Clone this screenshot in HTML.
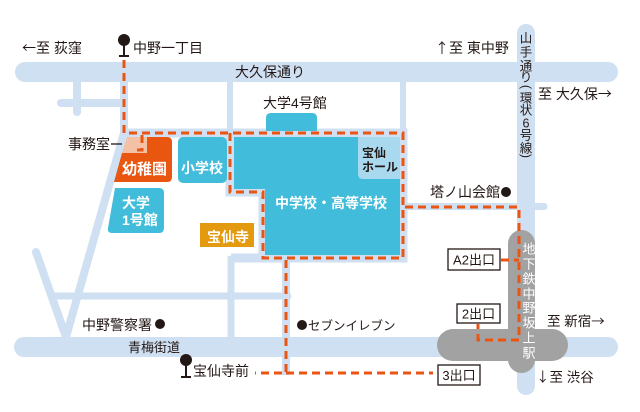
<!DOCTYPE html>
<html><head><meta charset="utf-8"><style>
html,body{margin:0;padding:0;background:#fff;}
svg{display:block;}
text{font-family:"Liberation Sans","Noto Sans CJK JP",sans-serif;fill:#231815;}
.w{fill:#fff;font-weight:bold;}
.a{font-family:"Noto Sans CJK JP",sans-serif;}
</style></head><body>
<svg width="640" height="412" viewBox="0 0 640 412" xmlns="http://www.w3.org/2000/svg">
<rect width="640" height="412" fill="#fff"/>
<g stroke="#cfe0f2" fill="none">
  <line x1="25" y1="72" x2="608" y2="72" stroke-width="20" stroke-linecap="round"/>
  <line x1="526" y1="33" x2="526" y2="386" stroke-width="18" stroke-linecap="round"/>
  <line x1="24" y1="347" x2="608" y2="347" stroke-width="20" stroke-linecap="round"/>
  <line x1="77" y1="80" x2="77" y2="112" stroke-width="8" stroke-linecap="round"/>
  <line x1="61" y1="103" x2="124" y2="103" stroke-width="8" stroke-linecap="round"/>
  <line x1="124" y1="80" x2="124" y2="136" stroke-width="8"/>
  <line x1="124" y1="133" x2="66" y2="337" stroke-width="8"/>
  <line x1="36" y1="252" x2="66" y2="337" stroke-width="8" stroke-linecap="round"/>
  <line x1="230" y1="80" x2="230" y2="136" stroke-width="6"/>
  <line x1="403" y1="80" x2="403" y2="136" stroke-width="6"/>
  <path d="M124 133 H403 V258 H231 M230 133 V192 H263 V258" stroke-width="9"/>
  <line x1="231" y1="256" x2="231" y2="340" stroke-width="7"/>
  <line x1="55" y1="296" x2="288" y2="296" stroke-width="7" stroke-linecap="round"/>
  <line x1="286" y1="258" x2="286" y2="375" stroke-width="8"/>
  <line x1="403" y1="206.5" x2="544" y2="206.5" stroke-width="7" stroke-linecap="round"/>
</g>
<!-- buildings -->
<path d="M234 137 H400 V255 H265 V189 H234 Z" fill="#42bcdb"/>
<path d="M358 137 H400 V179 H363 Q358 179 358 174 Z" fill="#a9d9ef"/>
<path d="M266 131 V118 Q266 113 271 113 H312 Q317 113 317 118 V131 Z" fill="#42bcdb"/>
<path d="M127 137 H147 V153 H122 Z" fill="#f4c1a5"/>
<path d="M147 137 H167 Q172 137 172 142 V177 Q172 182 167 182 H114 L122 153 H147 Z" fill="#e8560f"/>
<rect x="178" y="137" width="49" height="46" rx="5" fill="#42bcdb"/>
<path d="M115 188 H159 Q164 188 164 193 V228 Q164 233 159 233 H112 Q107 233 108 228 Z" fill="#42bcdb"/>
<rect x="200" y="223" width="54" height="24" fill="#e49a0e"/>
<!-- station -->
<rect x="508" y="230" width="27" height="143" rx="13.5" fill="#a2a2a2"/>
<rect x="437" y="329" width="131" height="32" rx="16" fill="#a2a2a2"/>
<!-- dashed routes -->
<g stroke="#ea5514" stroke-width="3" fill="none" stroke-dasharray="8 5">
  <path d="M124 60 V133 H403 V258 H263 V192 H230 V133"/>
  <path d="M142 135 V150 H137"/>
  <path d="M405 207 H519 V340 H478 V324"/>
  <path d="M501 260 H519"/>
  <path d="M286 260 V373 H255 M286 373 H433"/>
</g>
<!-- bus stops -->
<g fill="#231815" stroke="#231815" stroke-width="2">
  <circle cx="124" cy="40" r="6" stroke="none"/>
  <line x1="124" y1="44" x2="124" y2="56"/>
  <line x1="119" y1="56" x2="129" y2="56"/>
  <circle cx="186" cy="360" r="6" stroke="none"/>
  <line x1="186" y1="364" x2="186" y2="377"/>
  <line x1="181" y1="377" x2="191" y2="377"/>
</g>
<!-- dots -->
<circle cx="160" cy="324" r="5" fill="#231815"/>
<circle cx="302" cy="325" r="5" fill="#231815"/>
<circle cx="506" cy="192" r="5" fill="#231815"/>
<!-- exit boxes -->
<g fill="#fff" stroke="#231815" stroke-width="1.3">
  <rect x="448" y="249" width="52" height="21"/>
  <rect x="457" y="304" width="43" height="19"/>
  <rect x="438" y="365" width="42" height="20"/>
</g>
<!-- labels -->
<g font-size="14">
  <text x="22" y="53"><tspan class="a">←</tspan>至 荻窪</text>
  <text x="133" y="53">中野一丁目</text>
  <text x="235" y="77">大久保通り</text>
  <text x="263" y="108">大学4号館</text>
  <text x="435" y="53"><tspan class="a">↑</tspan>至 東中野</text>
  <text x="538" y="99">至 大久保<tspan class="a">→</tspan></text>
  <text x="68" y="149">事務室</text>
  <text x="430" y="197">塔ノ山会館</text>
  <text x="82" y="330">中野警察署</text>
  <text x="193" y="376">宝仙寺前</text>
  <text x="547" y="326" font-size="13.5">至 新宿<tspan class="a">→</tspan></text>
  <text x="536" y="382" font-size="13.5"><tspan class="a">↓</tspan>至 渋谷</text>
  <text x="128" y="352" font-size="13">青梅街道</text>
  <text x="308" y="330" font-size="12.5">セブンイレブン</text>
</g>
<line x1="111" y1="144" x2="122" y2="144" stroke="#231815" stroke-width="1.3"/>
<g font-size="13" text-anchor="middle">
  <text x="474" y="264.5">A2出口</text>
  <text x="478.5" y="318.5">2出口</text>
  <text x="459" y="380">3出口</text>
</g>
<text class="w" x="122" y="174" font-size="15">幼稚園</text>
<text class="w" x="181" y="173" font-size="14">小学校</text>
<text class="w" x="122" y="208" font-size="14">大学</text>
<text class="w" x="122" y="225" font-size="14">1号館</text>
<text class="w" x="207" y="242" font-size="14">宝仙寺</text>
<text class="w" x="275" y="208" font-size="14">中学校・高等学校</text>
<text x="362" y="157" font-size="12" font-weight="bold">宝仙</text>
<text x="362" y="171" font-size="12" font-weight="bold">ホール</text>
<!-- vertical road name -->
<g font-size="12.5" text-anchor="middle">
  <text x="526" y="42.5">山</text>
  <text x="526" y="56.5">手</text>
  <text x="526" y="70.5">通</text>
  <text x="526" y="81.5">り</text>
  <text x="526" y="91" transform="rotate(90 526 87)">(</text>
  <text x="526" y="102.5">環</text>
  <text x="526" y="114.5">状</text>
  <text x="526" y="127.5">6</text>
  <text x="526" y="139.5">号</text>
  <text x="526" y="152.5">線</text>
  <text x="526" y="160" transform="rotate(90 526 156)">)</text>
</g>
<!-- station name -->
<g font-size="13" text-anchor="middle">
  <text x="529" y="253.5" style="fill:#fff">地</text>
  <text x="529" y="268.5" style="fill:#fff">下</text>
  <text x="529" y="283.5" style="fill:#fff">鉄</text>
  <text x="529" y="298.5" style="fill:#fff">中</text>
  <text x="529" y="312.5" style="fill:#fff">野</text>
  <text x="529" y="327.5" style="fill:#fff">坂</text>
  <text x="529" y="342.5" style="fill:#fff">上</text>
  <text x="529" y="357.5" style="fill:#fff">駅</text>
</g>
</svg>
</body></html>
